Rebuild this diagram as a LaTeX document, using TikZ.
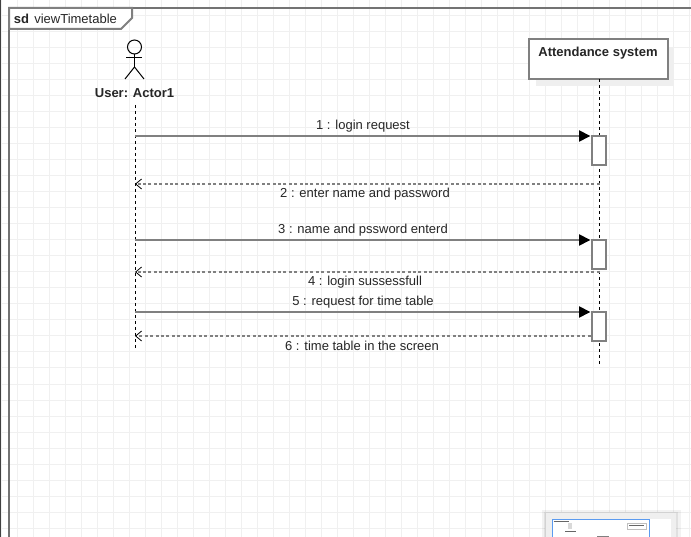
\documentclass[tikz,border=0pt]{standalone}
\usepackage{fontspec}
\setmainfont{Liberation Sans}
\usetikzlibrary{arrows.meta}
\usetikzlibrary{positioning}
\definecolor{umlgray}{HTML}{808080}
\definecolor{gridgray}{HTML}{F0F0F0}
\definecolor{shadowgray}{HTML}{EFEFEF}
\definecolor{navblue}{HTML}{5B9BF0}
\begin{document}
\begin{tikzpicture}[x=1pt,y=-1pt,semithick]
	\tikzstyle{lbl}=[font=\fontsize{13}{15}\selectfont,text=black!85,inner sep=0pt]
	\tikzstyle{bold lbl}=[font=\fontsize{13}{15}\selectfont\bfseries,text=black!85,inner sep=0pt]
	\tikzstyle{lifeline}=[black,line width=1pt,dash pattern=on 3pt off 3pt]
	\tikzstyle{msg}=[umlgray,line width=2pt,-{Triangle[black,length=11.5pt,width=11pt]}]
	\tikzstyle{ret}=[umlgray,line width=1.8pt,dash pattern=on 3pt off 2.4pt,-{Straight Barb[black,line width=.8pt,length=6pt,width=10pt]}]
	\tikzstyle{act}=[draw=umlgray,line width=2pt,fill=white,minimum width=14pt,minimum height=29pt,inner sep=0pt]
	\useasboundingbox (0,0) rectangle (691,537);
	\fill[white] (0,0) rectangle (691,537);
	\clip (0,0) rectangle (691,537);
	% background grid
	\foreach \gx in {1,17,...,689}
		\draw[gridgray,line width=1pt] (\gx,0) -- (\gx,537);
	\foreach \gy in {0,16,...,536}
		\draw[gridgray,line width=1pt] (0,\gy) -- (691,\gy);
	% frame
	\draw[black!75,line width=1.5pt] (0.5,0) -- (0.5,537);
	\draw[umlgray!90!black,line width=2pt] (9,537) -- (9,8) -- (691,8);
	\draw[umlgray,line width=2pt,fill=white] (9,8) -- (132,8) -- (132,18) -- (121,29) -- (9,29) -- cycle;
	\node[bold lbl,anchor=west] (sd) at (13.5,19) {sd};
	\node[lbl,anchor=west] (title) at (34,19) {viewTimetable};
	% actor
	\node[draw=black,line width=1pt,circle,minimum size=14pt,inner sep=0pt] (head) at (134.5,47) {};
	\coordinate (hip) at (134.5,67);
	\draw[black,line width=1pt] (head.south) -- (hip);
	\draw[black,line width=1pt] (126,58) -- (142,58);
	\draw[black,line width=1pt] (125,79) -- (hip) -- (144,79);
	\node[bold lbl] (actor) at (134.5,93) {User: Actor1};
	% system box
	\fill[shadowgray] (536,47) rectangle (674,86);
	\node[draw=umlgray,line width=2pt,fill=white,minimum width=139pt,minimum height=40pt,inner sep=0pt] (sys) at (598,59.5) {};
	\node[bold lbl] (systitle) at (598,53.5) {Attendance system};
	% lifelines
	\coordinate (u0) at (135,105);
	\coordinate (u1) at (135,348);
	\coordinate (s0) at (599.5,79);
	\coordinate (s1) at (599.5,365);
	\draw[lifeline] (u0) -- (u1);
	\draw[lifeline] (s0) -- (s1);
	% activations
	\node[act] (a1) at (598.5,150.3) {};
	\node[act] (a2) at (598.5,254.3) {};
	\node[act] (a3) at (598.5,326.3) {};
	% end points on the actor lifeline
	\coordinate (m1) at (135,136);
	\coordinate (m2) at (135,184);
	\coordinate (m3) at (135,240);
	\coordinate (m4) at (135,272);
	\coordinate (m5) at (135,312);
	\coordinate (m6) at (135,336);
	\coordinate (r2) at (599.5,184);
	\coordinate (r4) at (599.5,272);
	% messages
	\draw[msg] (m1) -- (a1.west |- m1);
	\draw[ret] (r2) -- (m2);
	\draw[msg] (m3) -- (a2.west |- m3);
	\draw[ret] (r4) -- (m4);
	\draw[msg] (m5) -- (a3.west |- m5);
	\draw[ret] (a3.west |- m6) -- (m6);
	\node[lbl] (l1) at (363,126.5) {1 : login request};
	\node[lbl] (l2) at (365,194.5) {2 : enter name and password};
	\node[lbl] (l3) at (363,230.5) {3 : name and pssword enterd};
	\node[lbl] (l4) at (365,282.5) {4 : login sussessfull};
	\node[lbl] (l5) at (363,302.5) {5 : request for time table};
	\node[lbl] (l6) at (362,346) {6 : time table in the screen};
	% outline thumbnail
	\fill[black,opacity=.05] (542,510) rectangle (681,537);
	\fill[black,opacity=.07] (544,512) rectangle (678,537);
	\fill[shadowgray] (546,513) rectangle (676,537);
	\fill[white] (552,519) rectangle (671,537);
	\draw[navblue,line width=1pt] (552,519) -- (649,519);
	\draw[navblue,line width=1pt] (552,519) -- (552,537);
	\draw[navblue,line width=1pt] (649,519) -- (649,537);
	\draw[black!60,line width=.8pt] (553.5,521) -- (569,521);
	\draw[black!25,fill=white,line width=1pt] (627,523) rectangle (646,529);
	\draw[black!60,line width=.8pt] (629,525.5) -- (644,525.5);
	\fill[black!15] (568,523) rectangle (572,529);
	\draw[black!60,line width=.8pt] (565,531) -- (576,531);
	\draw[black!50,line width=.8pt] (597,536.5) -- (609,536.5);
\end{tikzpicture}
\end{document}
